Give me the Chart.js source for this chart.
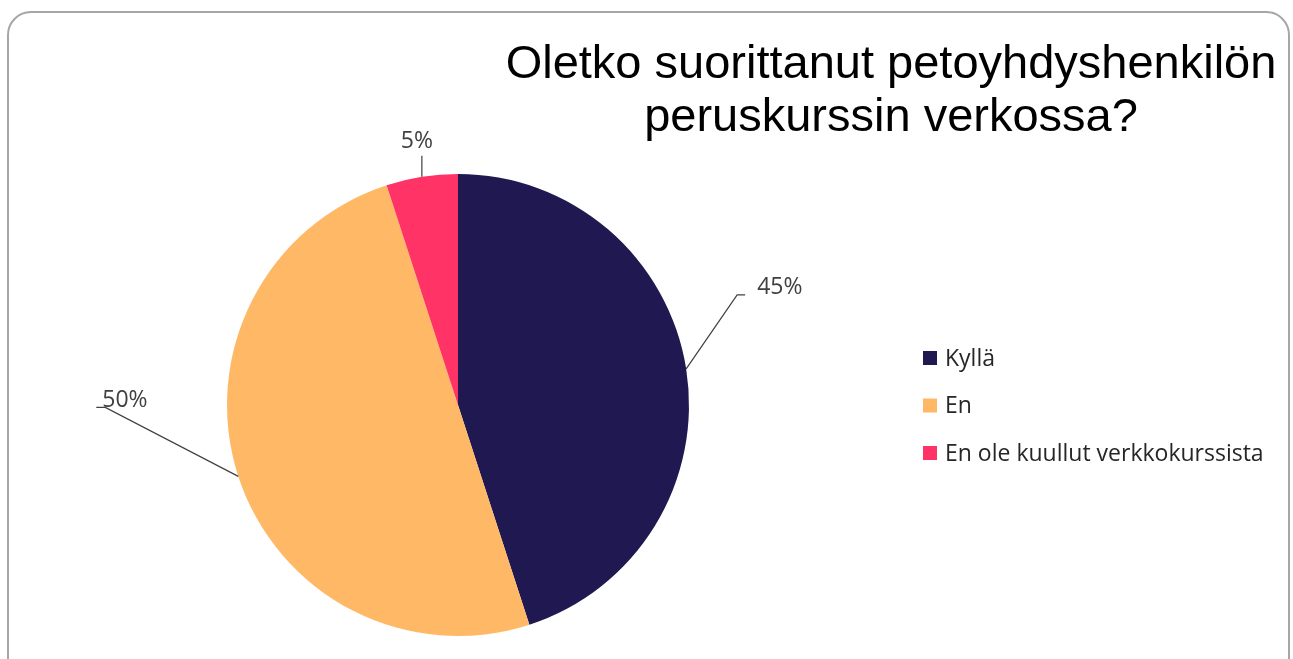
<!doctype html>
<html>

<head>
    <meta charset="utf-8">
    <title>Peruskurssi</title>
    <script src="https://cdn.jsdelivr.net/npm/chart.js"></script>
</head>

<style>
    body {
        margin: 0;
        background: #fff;
        overflow: hidden;
    }

    .kehys {
        position: absolute;
        left: 7px;
        top: 11px;
        width: 1279px;
        height: 670px;
        border: 2px solid #a6a6a6;
        border-radius: 24px;
    }

    .kaavio {
        position: absolute;
        left: 0;
        top: 0;
        width: 1293px;
        height: 659px;
    }
</style>

<body>

    <div class="kehys"></div>
    <div class="kaavio">
        <canvas id="peruskurssi"></canvas>
    </div>

    <script>

        var otsikko = ['Oletko suorittanut petoyhdyshenkilön', 'peruskurssin verkossa?'];
        var vastaukset = ['Kyllä', 'En', 'En ole kuullut verkkokurssista'];
        var osuudet = [45, 50, 5];
        var varit = ['#201850', '#FFB966', '#FF3366'];

        // label leader offsets from the slice edge (dx, dy), and short horizontal tail
        var viivat = [
            { dx: 51, dy: -74, hanta: 8 },
            { dx: -133, dy: -69, hanta: -9 },
            { dx: 0, dy: -21, hanta: 0 }
        ];

        var fontti = '23px "Open Sans", sans-serif';

        var otsikkoPlugin = {
            id: 'otsikko',
            afterDraw: function (chart) {
                var ctx = chart.ctx;
                ctx.save();
                ctx.fillStyle = '#000';
                ctx.font = '47px "Liberation Sans", Arial, sans-serif';
                ctx.textAlign = 'center';
                ctx.textBaseline = 'alphabetic';
                ctx.fillText(otsikko[0], 891, 78);
                ctx.fillText(otsikko[1], 891, 131);
                ctx.restore();
            }
        };

        var selitePlugin = {
            id: 'selite',
            afterDraw: function (chart) {
                var ctx = chart.ctx;
                ctx.save();
                ctx.font = fontti;
                ctx.textBaseline = 'middle';
                ctx.textAlign = 'left';
                vastaukset.forEach(function (nimi, i) {
                    var y = 358 + i * 47.5;
                    ctx.fillStyle = varit[i];
                    ctx.fillRect(923, y - 7, 14, 14);
                    ctx.fillStyle = '#262626';
                    ctx.fillText(nimi, 945, y + 1);
                });
                ctx.restore();
            }
        };

        var arvoPlugin = {
            id: 'arvot',
            afterDatasetsDraw: function (chart) {
                var ctx = chart.ctx;
                var kaaret = chart.getDatasetMeta(0).data;
                ctx.save();
                ctx.font = fontti;
                ctx.strokeStyle = '#404040';
                ctx.fillStyle = '#404040';
                ctx.lineWidth = 1.2;
                kaaret.forEach(function (kaari, i) {
                    var p = kaari.getProps(['x', 'y', 'startAngle', 'endAngle', 'outerRadius'], true);
                    var kulma = (p.startAngle + p.endAngle) / 2;
                    var x0 = p.x + Math.cos(kulma) * p.outerRadius;
                    var y0 = p.y + Math.sin(kulma) * p.outerRadius;
                    var v = viivat[i];
                    var x1 = x0 + v.dx;
                    var y1 = y0 + v.dy;
                    ctx.beginPath();
                    ctx.moveTo(x0, y0);
                    ctx.lineTo(x1, y1);
                    if (v.hanta != 0) {
                        ctx.lineTo(x1 + v.hanta, y1);
                    }
                    ctx.stroke();
                    var teksti = osuudet[i] + '%';
                    if (i == 0) {
                        ctx.textAlign = 'left';
                        ctx.textBaseline = 'middle';
                        ctx.fillText(teksti, x1 + 20, y1 - 7);
                    } else if (i == 1) {
                        ctx.textAlign = 'left';
                        ctx.textBaseline = 'middle';
                        ctx.fillText(teksti, x1 - 3, y1 - 7);
                    } else {
                        ctx.textAlign = 'center';
                        ctx.textBaseline = 'bottom';
                        ctx.fillText(teksti, x1 - 5, y1 - 3);
                    }
                });
                ctx.restore();
            }
        };

        var peruskurssi = new Chart(document.getElementById('peruskurssi').getContext('2d'), {
            type: 'pie',
            data: {
                labels: vastaukset,
                datasets: [{
                    data: osuudet,
                    backgroundColor: varit,
                    borderColor: '#ffffff',
                    borderWidth: 0
                }]
            },
            options: {
                responsive: true,
                maintainAspectRatio: false,
                animation: false,
                layout: {
                    padding: { left: 227, top: 174, right: 604, bottom: 23 }
                },
                plugins: {
                    legend: { display: false },
                    title: { display: false },
                    tooltip: { enabled: false }
                }
            },
            plugins: [otsikkoPlugin, selitePlugin, arvoPlugin]
        });

    </script>
</body>

</html>
